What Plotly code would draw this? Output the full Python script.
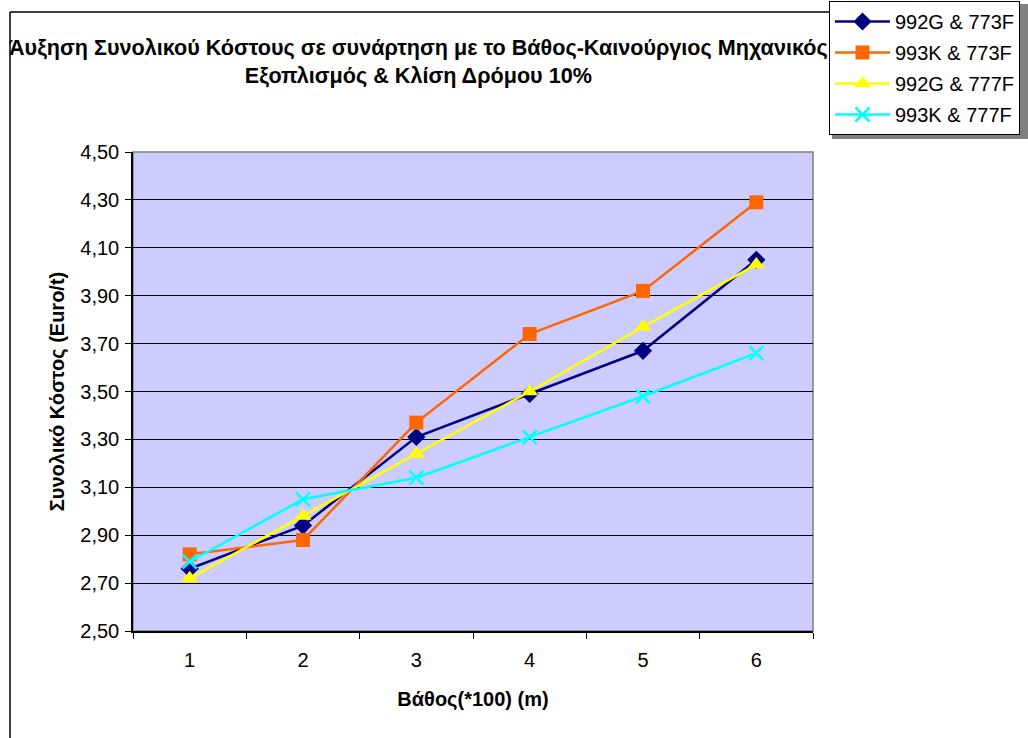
import plotly.graph_objects as go

categories = ["1", "2", "3", "4", "5", "6"]
s1_name = "992G & 773F"
s1 = [2.76, 2.94, 3.31, 3.49, 3.67, 4.05]
s2_name = "993K & 773F"
s2 = [2.82, 2.88, 3.37, 3.74, 3.92, 4.29]
s3_name = "992G & 777F"
s3 = [2.72, 2.98, 3.24, 3.50, 3.77, 4.03]
s4_name = "993K & 777F"
s4 = [2.79, 3.05, 3.14, 3.31, 3.48, 3.66]
y_ticks = [2.5, 2.7, 2.9, 3.1, 3.3, 3.5, 3.7, 3.9, 4.1, 4.3, 4.5]

title_text = ("Άυξηση Συνολικού Κόστους σε συνάρτηση με το Βάθος-Καινούργιος Μηχανικός"
              "<br>Εξοπλισμός & Κλίση Δρόμου 10%")
x_title = "Βάθος(*100) (m)"
y_title = "Συνολικό Κόστος (Euro/t)"

FONT = "Liberation Sans, Arial, sans-serif"
FS = 20

fig = go.Figure()
specs = [
    (s1_name, s1, "#000080", "diamond", 14, None),
    (s2_name, s2, "#FF6600", "square", 14, None),
    (s3_name, s3, "#FFFF00", "triangle-up", 15, None),
    (s4_name, s4, "#00FFFF", "x-thin", 14, dict(color="#00FFFF", width=2.5)),
]
for i, (name, vals, col, sym, size, mline) in enumerate(specs):
    marker = dict(symbol=sym, size=size, color=col)
    marker["line"] = mline if mline else dict(width=0)
    fig.add_trace(go.Scatter(
        x=categories, y=vals, name=name, mode="lines+markers",
        line=dict(color=col, width=2.5), marker=marker,
        legendgroup="g%d" % i,
    ))

W, H = 1028, 738
L, R, T, B = 133, 215, 152, 107
pw, ph = W - L - R, H - T - B

def px_x(p):
    return (p - L) / pw

def px_y(p):
    return (H - B - p) / ph

fig.update_layout(
    width=W, height=H,
    margin=dict(l=L, r=R, t=T, b=B, pad=0),
    paper_bgcolor="white",
    plot_bgcolor="#CCCCFF",
    separators=",.",
    font=dict(family=FONT, size=FS, color="black"),
    showlegend=True,
    legend=dict(xref="container", yref="container",
                x=829 / W, xanchor="left", y=1 - 1 / H, yanchor="top",
                bgcolor="white", bordercolor="black", borderwidth=1,
                font=dict(family=FONT, size=FS, color="black"),
                itemwidth=55, tracegroupgap=2),
    xaxis=dict(type="category", range=[-0.5, 5.5], tickson="boundaries",
               ticks="outside", ticklen=6, tickcolor="black", tickwidth=1,
               ticklabelstandoff=10,
               showline=True, linecolor="black", linewidth=1.5,
               showgrid=False, zeroline=False, automargin=False,
               tickfont=dict(family=FONT, size=FS),
               title=dict(text="<b>" + x_title + "</b>", standoff=22,
                          font=dict(family=FONT, size=FS))),
    yaxis=dict(range=[2.5, 4.5], tickvals=y_ticks, tickformat=".2f",
               ticks="outside", ticklen=6, tickcolor="black", tickwidth=1,
               ticklabelstandoff=2,
               showline=True, linecolor="black", linewidth=1.5,
               showgrid=True, gridcolor="black", gridwidth=1, zeroline=False,
               automargin=False,
               tickfont=dict(family=FONT, size=FS),
               title=dict(text="<b>" + y_title + "</b>", standoff=10,
                          font=dict(family=FONT, size=FS))),
)

fig.add_annotation(text="<b>" + title_text + "</b>", xref="paper", yref="paper",
                   x=px_x(418), xanchor="center", y=px_y(33), yanchor="top",
                   showarrow=False, align="center",
                   font=dict(family=FONT, size=21.6, color="black"))

# plot area border (gray, top/right)
fig.add_shape(type="rect", xref="paper", yref="paper", x0=0, x1=1, y0=0, y1=1,
              line=dict(color="#808080", width=1.5), layer="below")
# outer chart frame (top and left edges)
fig.add_shape(type="line", xref="paper", yref="paper",
              x0=px_x(10), x1=px_x(829), y0=px_y(12), y1=px_y(12),
              line=dict(color="black", width=1.5))
fig.add_shape(type="line", xref="paper", yref="paper",
              x0=px_x(10), x1=px_x(10), y0=px_y(12), y1=px_y(740),
              line=dict(color="black", width=1.5))
# legend shadow
fig.add_shape(type="rect", xref="paper", yref="paper",
              x0=px_x(832), x1=px_x(1032), y0=px_y(139), y1=px_y(4),
              line=dict(width=0), fillcolor="#808080")

fig.write_html("out.html")
